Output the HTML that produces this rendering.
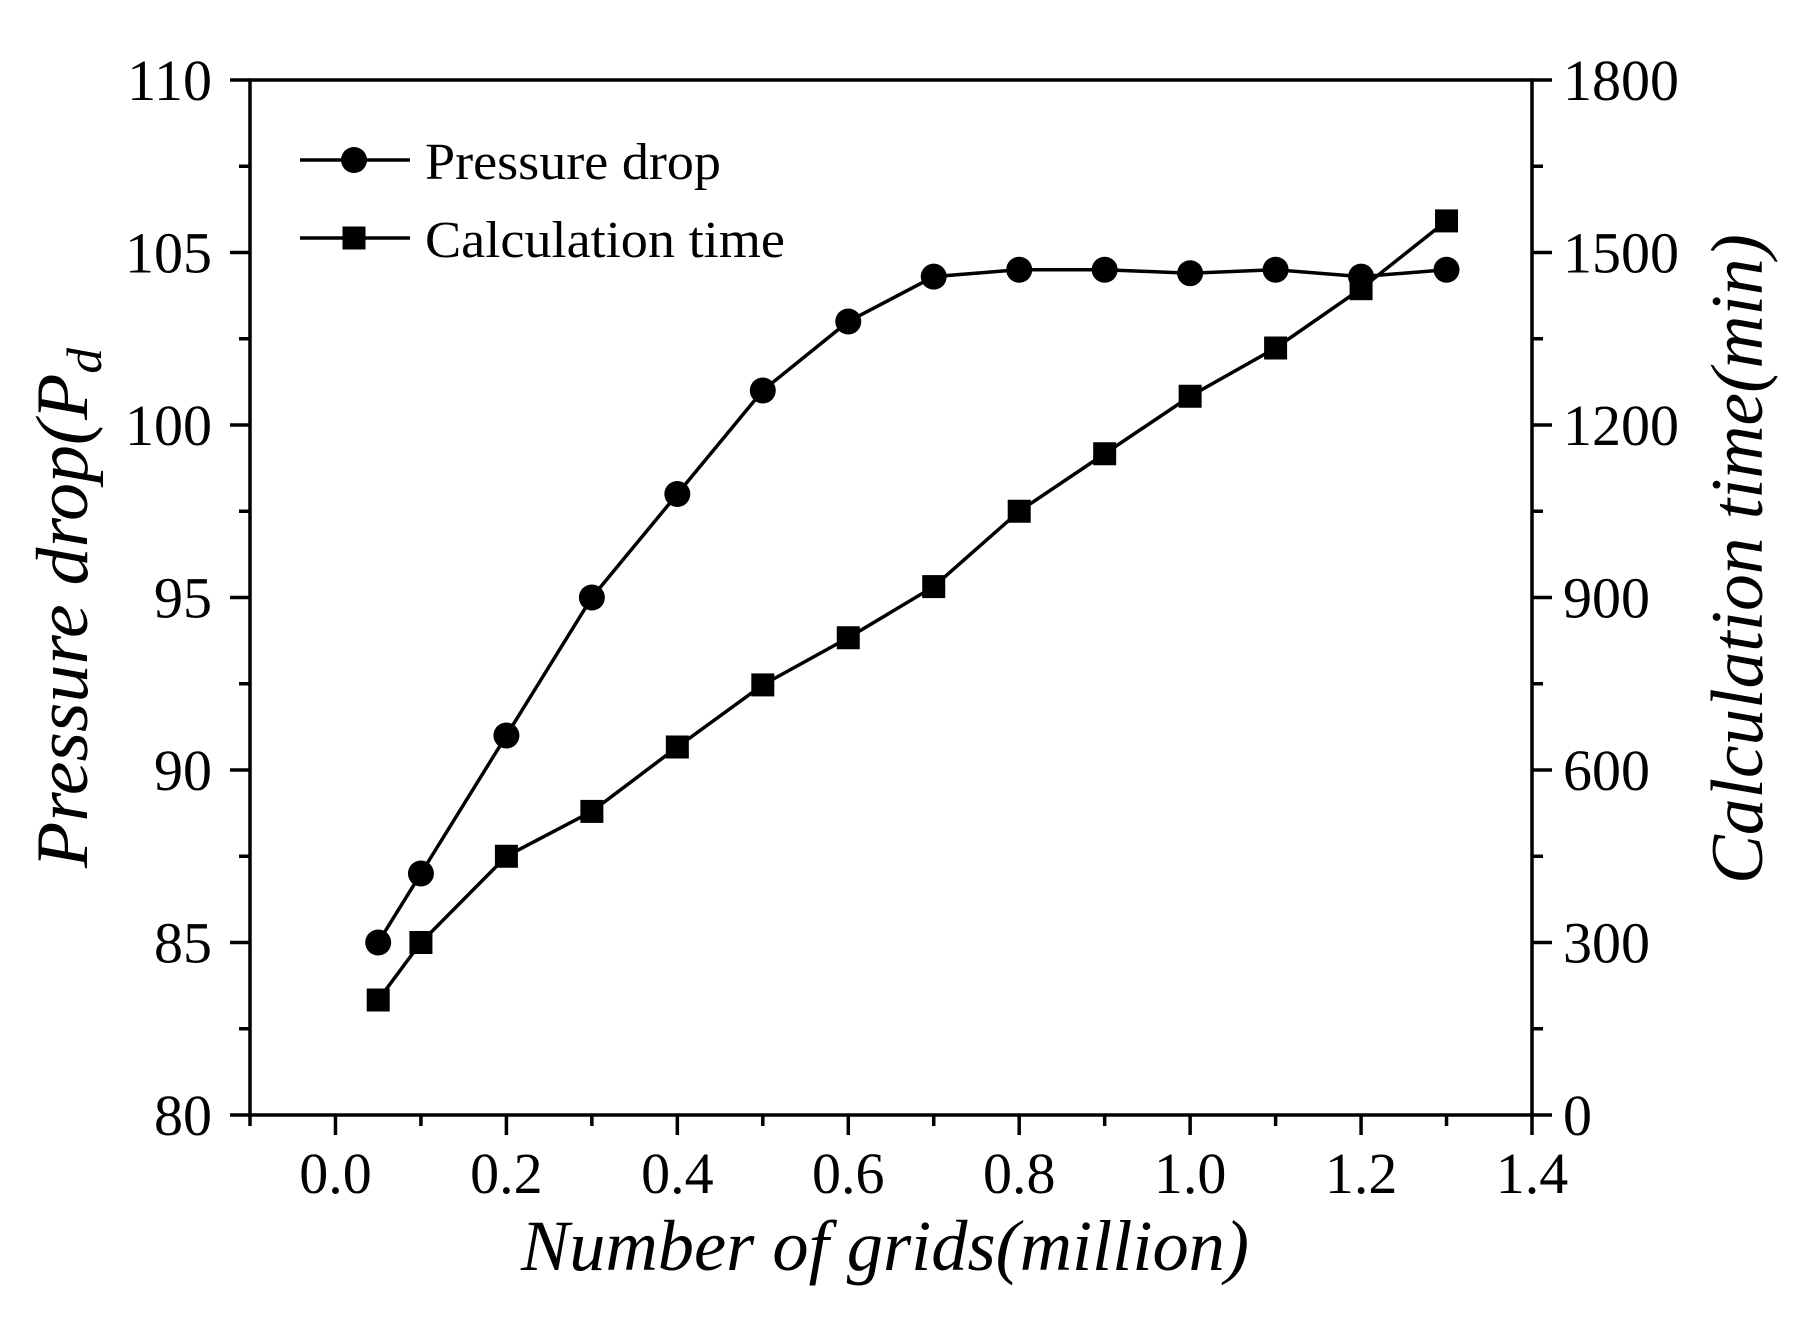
<!DOCTYPE html>
<html><head><meta charset="utf-8"><style>html,body{margin:0;padding:0;background:#fff}svg{display:block}</style></head><body>
<svg width="1798" height="1318" viewBox="0 0 1798 1318" xmlns="http://www.w3.org/2000/svg" font-family="'Liberation Serif', serif">
<rect width="1798" height="1318" fill="#fff"/>
<rect x="250" y="80" width="1282" height="1035" fill="none" stroke="#000" stroke-width="3.5"/>
<g stroke="#000" stroke-width="3.5">
<line x1="230" y1="1115" x2="250" y2="1115"/><line x1="239" y1="1028.75" x2="250" y2="1028.75"/>
<line x1="230" y1="942.5" x2="250" y2="942.5"/><line x1="239" y1="856.25" x2="250" y2="856.25"/>
<line x1="230" y1="770" x2="250" y2="770"/><line x1="239" y1="683.75" x2="250" y2="683.75"/>
<line x1="230" y1="597.5" x2="250" y2="597.5"/><line x1="239" y1="511.25" x2="250" y2="511.25"/>
<line x1="230" y1="425" x2="250" y2="425"/><line x1="239" y1="338.75" x2="250" y2="338.75"/>
<line x1="230" y1="252.5" x2="250" y2="252.5"/><line x1="239" y1="166.25" x2="250" y2="166.25"/>
<line x1="230" y1="80" x2="250" y2="80"/>
<line x1="1532" y1="1115" x2="1552" y2="1115"/><line x1="1532" y1="1028.75" x2="1543" y2="1028.75"/>
<line x1="1532" y1="942.5" x2="1552" y2="942.5"/><line x1="1532" y1="856.25" x2="1543" y2="856.25"/>
<line x1="1532" y1="770" x2="1552" y2="770"/><line x1="1532" y1="683.75" x2="1543" y2="683.75"/>
<line x1="1532" y1="597.5" x2="1552" y2="597.5"/><line x1="1532" y1="511.25" x2="1543" y2="511.25"/>
<line x1="1532" y1="425" x2="1552" y2="425"/><line x1="1532" y1="338.75" x2="1543" y2="338.75"/>
<line x1="1532" y1="252.5" x2="1552" y2="252.5"/><line x1="1532" y1="166.25" x2="1543" y2="166.25"/>
<line x1="1532" y1="80" x2="1552" y2="80"/>
<line x1="250" y1="1115" x2="250" y2="1126"/>
<line x1="335.47" y1="1115" x2="335.47" y2="1135"/><line x1="420.93" y1="1115" x2="420.93" y2="1126"/>
<line x1="506.4" y1="1115" x2="506.4" y2="1135"/><line x1="591.87" y1="1115" x2="591.87" y2="1126"/>
<line x1="677.33" y1="1115" x2="677.33" y2="1135"/><line x1="762.8" y1="1115" x2="762.8" y2="1126"/>
<line x1="848.27" y1="1115" x2="848.27" y2="1135"/><line x1="933.73" y1="1115" x2="933.73" y2="1126"/>
<line x1="1019.2" y1="1115" x2="1019.2" y2="1135"/><line x1="1104.67" y1="1115" x2="1104.67" y2="1126"/>
<line x1="1190.13" y1="1115" x2="1190.13" y2="1135"/><line x1="1275.6" y1="1115" x2="1275.6" y2="1126"/>
<line x1="1361.07" y1="1115" x2="1361.07" y2="1135"/><line x1="1446.53" y1="1115" x2="1446.53" y2="1126"/>
<line x1="1532" y1="1115" x2="1532" y2="1135"/>
</g>
<g font-size="58" text-anchor="end">
<text x="212" y="1135">80</text><text x="212" y="962.5">85</text><text x="212" y="790">90</text>
<text x="212" y="617.5">95</text><text x="212" y="445">100</text><text x="212" y="272.5">105</text><text x="212" y="100">110</text>
</g>
<g font-size="58">
<text x="1563" y="1135">0</text><text x="1563" y="962.5">300</text><text x="1563" y="790">600</text>
<text x="1563" y="617.5">900</text><text x="1563" y="445">1200</text><text x="1563" y="272.5">1500</text><text x="1563" y="100">1800</text>
</g>
<g font-size="58" text-anchor="middle">
<text x="335.47" y="1193">0.0</text><text x="506.4" y="1193">0.2</text><text x="677.33" y="1193">0.4</text>
<text x="848.27" y="1193">0.6</text><text x="1019.2" y="1193">0.8</text><text x="1190.13" y="1193">1.0</text>
<text x="1361.07" y="1193">1.2</text><text x="1532" y="1193">1.4</text>
</g>
<polyline fill="none" stroke="#000" stroke-width="3.5" points="378.2,942.5 420.93,873.5 506.4,735.5 591.87,597.5 677.33,494 762.8,390.5 848.27,321.5 933.73,276.65 1019.2,269.75 1104.67,269.75 1190.13,273.2 1275.6,269.75 1361.07,276.65 1446.53,269.75"/>
<polyline fill="none" stroke="#000" stroke-width="3.5" points="378.2,1000 420.93,942.5 506.4,856.25 591.87,811.4 677.33,747 762.8,684.9 848.27,637.75 933.73,586.6 1019.2,511.25 1104.67,453.75 1190.13,396.25 1275.6,348 1361.07,288.7 1446.53,220.9"/>
<g fill="#000">
<circle cx="378.2" cy="942.5" r="13"/><circle cx="420.93" cy="873.5" r="13"/><circle cx="506.4" cy="735.5" r="13"/>
<circle cx="591.87" cy="597.5" r="13"/><circle cx="677.33" cy="494" r="13"/><circle cx="762.8" cy="390.5" r="13"/>
<circle cx="848.27" cy="321.5" r="13"/><circle cx="933.73" cy="276.65" r="13"/><circle cx="1019.2" cy="269.75" r="13"/>
<circle cx="1104.67" cy="269.75" r="13"/><circle cx="1190.13" cy="273.2" r="13"/><circle cx="1275.6" cy="269.75" r="13"/>
<circle cx="1361.07" cy="276.65" r="13"/><circle cx="1446.53" cy="269.75" r="13"/>
<rect x="366.7" y="988.5" width="23" height="23"/><rect x="409.43" y="931" width="23" height="23"/>
<rect x="494.9" y="844.75" width="23" height="23"/><rect x="580.37" y="799.9" width="23" height="23"/>
<rect x="665.83" y="735.5" width="23" height="23"/><rect x="751.3" y="673.4" width="23" height="23"/>
<rect x="836.77" y="626.25" width="23" height="23"/><rect x="922.23" y="575.1" width="23" height="23"/>
<rect x="1007.7" y="499.75" width="23" height="23"/><rect x="1093.17" y="442.25" width="23" height="23"/>
<rect x="1178.63" y="384.75" width="23" height="23"/><rect x="1264.1" y="336.5" width="23" height="23"/>
<rect x="1349.57" y="277.2" width="23" height="23"/><rect x="1435.03" y="209.4" width="23" height="23"/>
</g>
<line x1="300" y1="160" x2="410" y2="160" stroke="#000" stroke-width="3.5"/><circle cx="354" cy="160" r="13" fill="#000"/>
<text x="425" y="179" font-size="52" textLength="296" lengthAdjust="spacingAndGlyphs">Pressure drop</text>
<line x1="300" y1="238" x2="410" y2="238" stroke="#000" stroke-width="3.5"/><rect x="342.5" y="226.5" width="23" height="23" fill="#000"/>
<text x="425" y="257" font-size="52" textLength="360" lengthAdjust="spacingAndGlyphs">Calculation time</text>
<text x="521" y="1270" font-size="72" font-style="italic" textLength="728" lengthAdjust="spacingAndGlyphs">Number of grids(million)</text>
<text transform="translate(87,868) rotate(-90)" font-size="74" font-style="italic" textLength="520" lengthAdjust="spacingAndGlyphs">Pressure drop(P<tspan font-size="50" dy="14">d</tspan></text>
<text transform="translate(1762,884) rotate(-90)" font-size="74" font-style="italic" textLength="650" lengthAdjust="spacingAndGlyphs">Calculation time(min)</text>
</svg>
</body></html>
